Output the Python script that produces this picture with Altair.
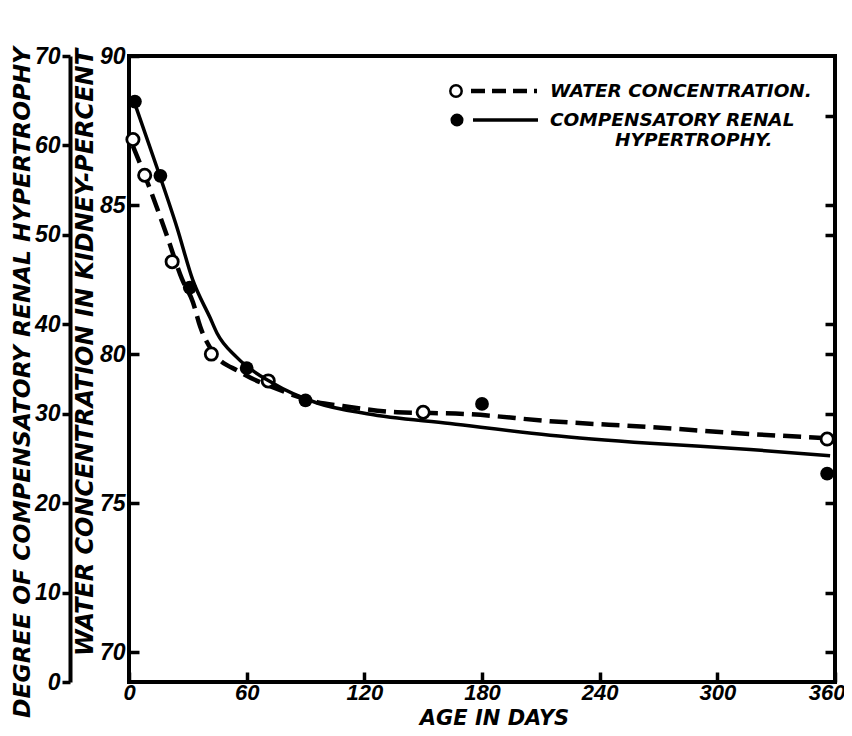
import altair as alt
import pandas as pd

# ---------------- data ----------------
water_pt_days = [2, 8, 22, 42, 71, 150, 356]
water_pt_vals = [87.2, 86.0, 83.1, 80.0, 79.1, 78.05, 77.15]

hyp_pt_days = [3, 16, 31, 60, 90, 180, 356]
hyp_pt_vals = [64.9, 56.6, 44.1, 35.1, 31.5, 31.1, 23.3]

water_curve_days = [2, 10.7, 19.4, 27, 32.6, 36.2, 42.8, 56.6, 75.5, 95.9, 109, 136.7, 172, 214.7, 265.7, 316.7, 356]
water_curve_vals = [86.98, 85.54, 83.96, 82.52, 81.74, 80.94, 80.07, 79.40, 78.83, 78.39, 78.26, 78.05, 77.99, 77.75, 77.55, 77.32, 77.18]

hyp_curve_days = [2, 14.3, 24.5, 32.6, 41.3, 44.9, 55, 73.4, 95.9, 121.4, 163.7, 214.7, 265.7, 316.7, 357.5]
hyp_curve_vals = [65.3, 57.5, 50.8, 44.9, 40.75, 39.0, 36.3, 33.4, 31.2, 30.0, 28.9, 27.6, 26.7, 26.0, 25.3]

x_ticks = [0, 60, 120, 180, 240, 300, 360]
water_ticks = [70, 75, 80, 85, 90]
hyp_ticks = [0, 10, 20, 30, 40, 50, 60, 70]
right_ticks = [88, 85, 84, 81, 80, 78, 75, 72, 70]

legend_labels = ["WATER CONCENTRATION.", "COMPENSATORY RENAL", "HYPERTROPHY."]

# ---------------- styling ----------------
LFONT = "Liberation Sans"   # tick labels
TFONT = "DejaVu Sans"       # titles / legend
W, H = 706, 626
LBL = dict(labelFont=LFONT, labelFontStyle="italic", labelFontWeight="bold", labelColor="black")
TTL = dict(titleFont=TFONT, titleFontStyle="italic", titleFontWeight="bold", titleColor="black")

x_scale = alt.Scale(domain=[0, 360], nice=False, zero=False)
water_scale = alt.Scale(domain=[69, 90], nice=False, zero=False)
hyp_scale = alt.Scale(domain=[0, 70], nice=False, zero=False)

x_axis = alt.Axis(values=x_ticks, title="AGE IN DAYS", orient="bottom", offset=-10,
                  tickSize=10, tickWidth=3.5, tickColor="black", domain=False, grid=False,
                  labelFontSize=22, labelPadding=0, labelFlush=False, labelOverlap=False,
                  labelAlign={"condition": {"test": "datum.value == 360", "value": "right"},
                              "value": "center"},
                  labelOffset={"condition": {"test": "datum.value == 360", "value": 10},
                               "value": 0},
                  titleFontSize=21, titlePadding=4, titleX=365, **LBL, **TTL)

water_axis = alt.Axis(values=water_ticks, title="WATER CONCENTRATION IN KIDNEY-PERCENT",
                      orient="left", offset=-10, tickSize=10, tickWidth=3.5, tickColor="black",
                      domain=False, grid=False, labelFontSize=23, labelPadding=4,
                      labelOverlap=False,
                      titleFontSize=24, titlePadding=2, titleY=296, **LBL, **TTL)

hyp_axis = alt.Axis(values=hyp_ticks, title="DEGREE OF COMPENSATORY RENAL HYPERTROPHY",
                    orient="left", offset=59, tickSize=8, tickWidth=3.5, tickColor="black",
                    domain=True, domainWidth=4, domainColor="black", grid=False,
                    labelFontSize=23, labelPadding=2, labelOverlap=False,
                    titleFontSize=23.5, titlePadding=0, titleY=326, **LBL, **TTL)

right_axis = alt.Axis(values=right_ticks, title=None, orient="right", offset=-10,
                      tickSize=10, tickWidth=3.5, tickColor="black", domain=False,
                      labels=False, grid=False)

xenc = alt.X("day:Q", scale=x_scale, axis=x_axis)

water_curve_df = pd.DataFrame({"day": water_curve_days, "val": water_curve_vals})
water_pt_df = pd.DataFrame({"day": water_pt_days, "val": water_pt_vals})
hyp_curve_df = pd.DataFrame({"day": hyp_curve_days, "val": hyp_curve_vals})
hyp_pt_df = pd.DataFrame({"day": hyp_pt_days, "val": hyp_pt_vals})

water_y = alt.Y("val:Q", scale=water_scale, axis=water_axis)
hyp_y = alt.Y("val:Q", scale=hyp_scale, axis=hyp_axis)

water_line = alt.Chart(water_curve_df).mark_line(
    color="black", strokeWidth=4.5, strokeDash=[18, 8], interpolate="monotone"
).encode(x=xenc, y=water_y)
water_pts = alt.Chart(water_pt_df).mark_point(
    shape="circle", filled=True, fill="white", stroke="black", strokeWidth=2.8, size=150, opacity=1
).encode(x=xenc, y=water_y)
water_layer = alt.layer(water_line, water_pts)

hyp_line = alt.Chart(hyp_curve_df).mark_line(
    color="black", strokeWidth=3.5, interpolate="monotone"
).encode(x=xenc, y=hyp_y)
hyp_pts = alt.Chart(hyp_pt_df).mark_point(
    shape="circle", filled=True, color="black", size=190, opacity=1
).encode(x=xenc, y=hyp_y)
hyp_layer = alt.layer(hyp_line, hyp_pts)

right_df = pd.DataFrame({"day": [0] * len(right_ticks), "val": right_ticks})
right_layer = alt.Chart(right_df).mark_point(opacity=0).encode(
    x=xenc, y=alt.Y("val:Q", scale=water_scale, axis=right_axis)
)

# ---------------- legend ----------------
one = pd.DataFrame({"a": [0]})
leg_open = alt.Chart(one).mark_point(shape="circle", filled=True, fill="white", stroke="black",
                                     strokeWidth=2.5, size=130, opacity=1).encode(
    x=alt.value(327), y=alt.value(35))
leg_filled = alt.Chart(one).mark_point(shape="circle", filled=True, color="black",
                                       size=170, opacity=1).encode(
    x=alt.value(328), y=alt.value(64))
leg_dash = alt.Chart(one).mark_rule(color="black", strokeWidth=4.5, strokeDash=[14, 7]).encode(
    x=alt.value(342), x2=alt.value(408), y=alt.value(35))
leg_solid = alt.Chart(one).mark_rule(color="black", strokeWidth=3.5).encode(
    x=alt.value(344), x2=alt.value(409), y=alt.value(64))

leg_text_style = dict(font=TFONT, fontSize=18.5, fontStyle="italic", fontWeight="bold",
                      color="black", align="left", baseline="middle")
leg_t1 = alt.Chart(pd.DataFrame({"t": [legend_labels[0]]})).mark_text(**leg_text_style).encode(
    text="t:N", x=alt.value(421), y=alt.value(35))
leg_t2 = alt.Chart(pd.DataFrame({"t": [legend_labels[1]]})).mark_text(**leg_text_style).encode(
    text="t:N", x=alt.value(421), y=alt.value(64))
leg_t3 = alt.Chart(pd.DataFrame({"t": [legend_labels[2]]})).mark_text(**leg_text_style).encode(
    text="t:N", x=alt.value(486), y=alt.value(84))

chart = alt.layer(
    water_layer, hyp_layer, right_layer,
    leg_open, leg_filled, leg_dash, leg_solid, leg_t1, leg_t2, leg_t3
).resolve_scale(y="independent").properties(
    width=W, height=H,
    autosize=alt.AutoSizeParams(type="none"),
    padding={"left": 121, "top": 48, "right": 9, "bottom": 46},
    background="white",
).configure_view(stroke="black", strokeWidth=4)

chart.save("out.html", embed_options={"renderer": "svg", "actions": False})
